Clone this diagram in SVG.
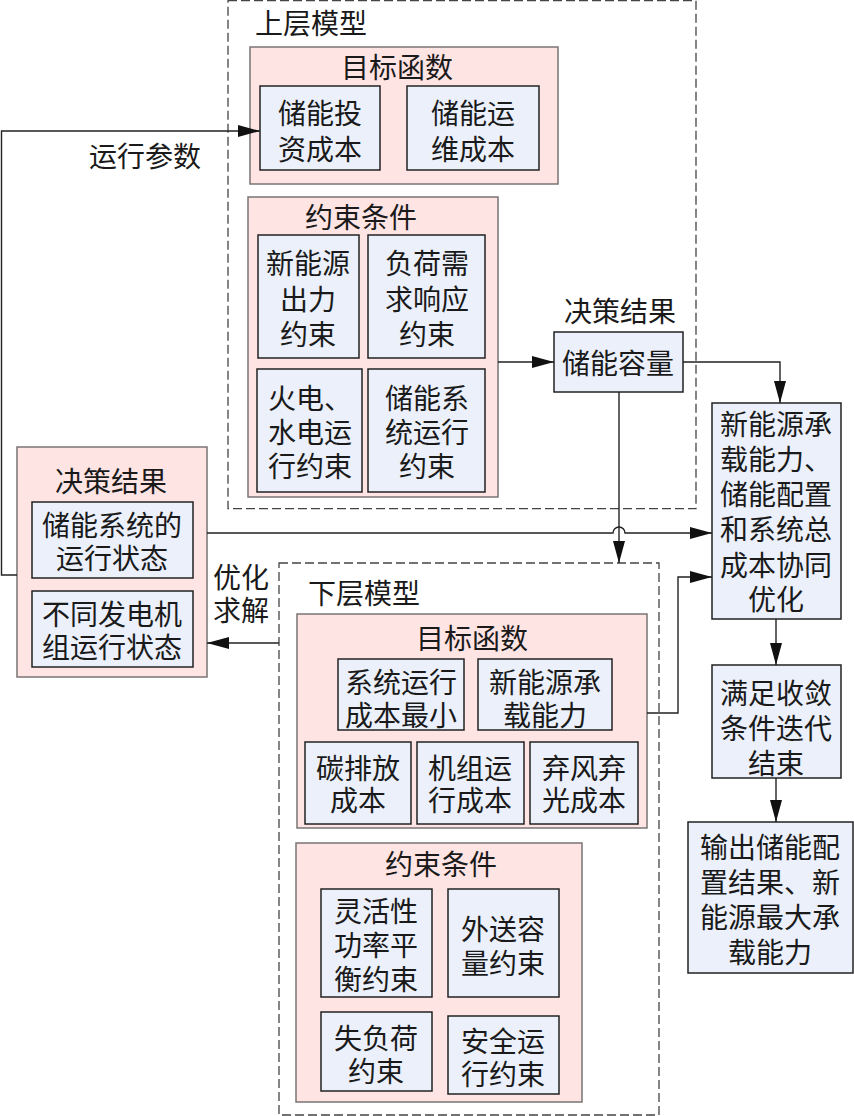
<svg xmlns="http://www.w3.org/2000/svg" width="854" height="1116" viewBox="0 0 854 1116">
<style>
text{font-family:"Liberation Sans","Noto Sans CJK SC",sans-serif;font-size:28px;fill:#1a1a1a;text-anchor:middle;dominant-baseline:central}
tspan{dominant-baseline:central}
.dash{fill:none;stroke:#444;stroke-width:1.3;stroke-dasharray:9 4}
.pink{fill:#FFE4E4;stroke:#7a7474;stroke-width:1.5}
.blue{fill:#EBF0FA;stroke:#222;stroke-width:1.5}
.ln{fill:none;stroke:#222;stroke-width:1.4}
</style>
<defs>
<marker id="ah" markerUnits="userSpaceOnUse" markerWidth="22" markerHeight="12" refX="22" refY="6" orient="auto" viewBox="0 0 22 12">
<path d="M0,0 L22,6 L0,12 z" fill="#111"/>
</marker>
</defs>
<rect width="854" height="1116" fill="#fff"/>

<g id="upper-model">
<rect class="dash" x="228" y="0.7" width="468" height="508"/>
<text x="311" y="24">上层模型</text>
</g>
<g id="upper-objective">
<rect class="pink" x="250" y="47" width="308" height="137"/>
<text x="397" y="68">目标函数</text>
</g>
<g id="u-invest">
<rect class="blue" x="260" y="86" width="120" height="84"/>
<text><tspan x="320" y="114">储能投</tspan><tspan x="320" y="150">资成本</tspan></text>
</g>
<g id="u-om">
<rect class="blue" x="407" y="86" width="132" height="84"/>
<text><tspan x="473" y="114">储能运</tspan><tspan x="473" y="150">维成本</tspan></text>
</g>
<g id="upper-constraint">
<rect class="pink" x="248" y="197" width="250" height="300"/>
<text x="361" y="218">约束条件</text>
</g>
<g id="u-c1">
<rect class="blue" x="258" y="235" width="101" height="123"/>
<text><tspan x="308" y="264">新能源</tspan><tspan x="308" y="300">出力</tspan><tspan x="308" y="335">约束</tspan></text>
</g>
<g id="u-c2">
<rect class="blue" x="368" y="235" width="117" height="123"/>
<text><tspan x="427" y="264">负荷需</tspan><tspan x="427" y="300">求响应</tspan><tspan x="427" y="335">约束</tspan></text>
</g>
<g id="u-c3">
<rect class="blue" x="257" y="369" width="105" height="123"/>
<text><tspan x="310" y="399">火电、</tspan><tspan x="310" y="433">水电运</tspan><tspan x="310" y="467">行约束</tspan></text>
</g>
<g id="u-c4">
<rect class="blue" x="368" y="369" width="117" height="123"/>
<text><tspan x="427" y="399">储能系</tspan><tspan x="427" y="433">统运行</tspan><tspan x="427" y="467">约束</tspan></text>
</g>
<g id="upper-decision">
<text x="620" y="312">决策结果</text>
<rect class="blue" x="554" y="332" width="129" height="60"/>
<text x="618" y="364">储能容量</text>
</g>

<g id="left-decision">
<rect class="pink" x="17" y="447" width="190" height="230"/>
<text x="111" y="482">决策结果</text>
<rect class="blue" x="32" y="502" width="161" height="76"/>
<text><tspan x="112" y="526">储能系统的</tspan><tspan x="112" y="559">运行状态</tspan></text>
<rect class="blue" x="32" y="591" width="161" height="76"/>
<text><tspan x="112" y="615">不同发电机</tspan><tspan x="112" y="648">组运行状态</tspan></text>
</g>

<g id="lower-model">
<rect class="dash" x="279" y="563" width="380" height="552"/>
<text x="364" y="594">下层模型</text>
</g>
<g id="lower-objective">
<rect class="pink" x="297" y="614" width="350" height="214"/>
<text x="472" y="639">目标函数</text>
</g>
<g id="l-o1">
<rect class="blue" x="338" y="659" width="126" height="71"/>
<text><tspan x="401" y="683">系统运行</tspan><tspan x="401" y="716">成本最小</tspan></text>
</g>
<g id="l-o2">
<rect class="blue" x="478" y="659" width="134" height="71"/>
<text><tspan x="545" y="683">新能源承</tspan><tspan x="545" y="716">载能力</tspan></text>
</g>
<g id="l-o3">
<rect class="blue" x="305" y="742" width="106" height="82"/>
<text><tspan x="358" y="769">碳排放</tspan><tspan x="358" y="801">成本</tspan></text>
</g>
<g id="l-o4">
<rect class="blue" x="417" y="742" width="107" height="82"/>
<text><tspan x="470" y="769">机组运</tspan><tspan x="470" y="801">行成本</tspan></text>
</g>
<g id="l-o5">
<rect class="blue" x="530" y="742" width="108" height="82"/>
<text><tspan x="584" y="769">弃风弃</tspan><tspan x="584" y="801">光成本</tspan></text>
</g>
<g id="lower-constraint">
<rect class="pink" x="296" y="843" width="286" height="259"/>
<text x="441" y="865">约束条件</text>
</g>
<g id="l-c1">
<rect class="blue" x="321" y="889" width="111" height="108"/>
<text><tspan x="376" y="912">灵活性</tspan><tspan x="376" y="946">功率平</tspan><tspan x="376" y="980">衡约束</tspan></text>
</g>
<g id="l-c2">
<rect class="blue" x="448" y="889" width="111" height="108"/>
<text><tspan x="503" y="930">外送容</tspan><tspan x="503" y="964">量约束</tspan></text>
</g>
<g id="l-c3">
<rect class="blue" x="321" y="1012" width="111" height="79"/>
<text><tspan x="376" y="1039">失负荷</tspan><tspan x="376" y="1072">约束</tspan></text>
</g>
<g id="l-c4">
<rect class="blue" x="448" y="1016" width="111" height="78"/>
<text><tspan x="503" y="1042">安全运</tspan><tspan x="503" y="1075">行约束</tspan></text>
</g>

<g id="coop">
<rect class="blue" x="712" y="403" width="129" height="216"/>
<text><tspan x="776" y="425">新能源承</tspan><tspan x="776" y="460">载能力、</tspan><tspan x="776" y="495">储能配置</tspan><tspan x="776" y="530">和系统总</tspan><tspan x="776" y="566">成本协同</tspan><tspan x="776" y="600">优化</tspan></text>
</g>
<g id="converge">
<rect class="blue" x="712" y="665" width="129" height="113"/>
<text><tspan x="776" y="694">满足收敛</tspan><tspan x="776" y="729">条件迭代</tspan><tspan x="776" y="764">结束</tspan></text>
</g>
<g id="output">
<rect class="blue" x="688" y="822" width="165" height="151"/>
<text><tspan x="770" y="848">输出储能配</tspan><tspan x="770" y="883">置结果、新</tspan><tspan x="770" y="918">能源最大承</tspan><tspan x="770" y="953">载能力</tspan></text>
</g>

<g id="labels">
<text x="145" y="157">运行参数</text>
<text><tspan x="241" y="578">优化</tspan><tspan x="241" y="611">求解</tspan></text>
</g>

<g id="connectors">
<path class="ln" d="M17,575 H1.5 V131 H260" marker-end="url(#ah)"/>
<path class="ln" d="M498,362 H554" marker-end="url(#ah)"/>
<path class="ln" d="M683,362 H780 V403" marker-end="url(#ah)"/>
<path class="ln" d="M619,392 V563" marker-end="url(#ah)"/>
<path class="ln" d="M207,533 H613 A6,6 0 0 1 625,533 H712" marker-end="url(#ah)"/>
<path class="ln" d="M279,643 H207" marker-end="url(#ah)"/>
<path class="ln" d="M647,713 H678 V577 H712" marker-end="url(#ah)"/>
<path class="ln" d="M776,619 V665" marker-end="url(#ah)"/>
<path class="ln" d="M776,778 V822" marker-end="url(#ah)"/>
</g>
</svg>
